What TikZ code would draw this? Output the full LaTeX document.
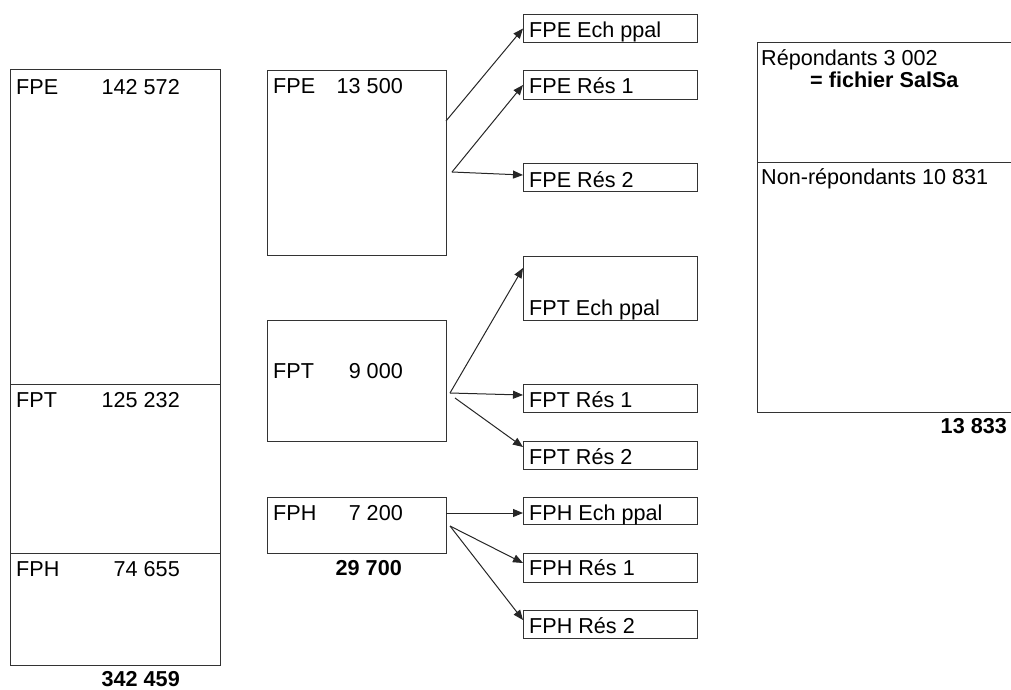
\documentclass[tikz,border=0pt]{standalone}
\usepackage{fontspec}
\setmainfont{Liberation Sans}
\usetikzlibrary{arrows.meta,calc}
\begin{document}
\begin{tikzpicture}[x=1pt,y=-1pt,
  box/.style={draw=black!80, line width=1pt, inner sep=0pt, anchor=north west, rectangle},
  txt/.style={anchor=base west, inner sep=0pt, font=\fontsize{21.6}{25}\selectfont},
  num/.style={anchor=base east, inner sep=0pt, font=\fontsize{21.6}{25}\selectfont},
  bnum/.style={anchor=base east, inner sep=0pt, font=\fontsize{21.6}{25}\selectfont\bfseries},
  arr/.style={draw=black!85, line width=1pt, -{Triangle[length=10pt,width=8pt]}}]
\useasboundingbox (0,0) rectangle (1011,689);
% left column
\node[box, minimum width=210pt, minimum height=315pt] (lfpe) at (10,69) {};
\node[box, minimum width=210pt, minimum height=169pt] (lfpt) at (10,384) {};
\node[box, minimum width=210pt, minimum height=112pt] (lfph) at (10,553) {};
\node[txt] (t1) at (16,94) {FPE};
\node[num] (n1) at (180,94) {142 572};
\node[txt] (t2) at (16,407) {FPT};
\node[num] (n2) at (180,407) {125 232};
\node[txt] (t3) at (16,576) {FPH};
\node[num] (n3) at (180,576) {74 655};
\node[bnum] (tot1) at (180,686) {342 459};
% middle column
\node[box, minimum width=179pt, minimum height=185pt] (mfpe) at (267,70) {};
\node[box, minimum width=179pt, minimum height=121pt] (mfpt) at (267,320) {};
\node[box, minimum width=179pt, minimum height=56pt] (mfph) at (267,497) {};
\node[txt] (m1) at (273,93) {FPE};
\node[num] (mn1) at (403,93) {13 500};
\node[txt] (m2) at (273,378) {FPT};
\node[num] (mn2) at (403,378) {9 000};
\node[txt] (m3) at (273,520) {FPH};
\node[num] (mn3) at (403,520) {7 200};
\node[bnum] (tot2) at (402,575) {29 700};
% small boxes
\node[box, minimum width=174pt, minimum height=28pt] (fpeech) at (523,14) {};
\node[box, minimum width=174pt, minimum height=29pt] (fpers1) at (523,70) {};
\node[box, minimum width=174pt, minimum height=28pt] (fpers2) at (523,163) {};
\node[box, minimum width=174pt, minimum height=64pt] (fptech) at (523,256) {};
\node[box, minimum width=174pt, minimum height=28pt] (fptrs1) at (523,384) {};
\node[box, minimum width=174pt, minimum height=28pt] (fptrs2) at (523,441) {};
\node[box, minimum width=174pt, minimum height=27pt] (fphech) at (523,497) {};
\node[box, minimum width=174pt, minimum height=29pt] (fphrs1) at (523,553) {};
\node[box, minimum width=174pt, minimum height=28pt] (fphrs2) at (523,610) {};
\node[txt] (s1) at (529,37) {FPE Ech ppal};
\node[txt] (s2) at (529,93) {FPE Rés 1};
\node[txt] (s3) at (529,187) {FPE Rés 2};
\node[txt] (s4) at (529,315) {FPT Ech ppal};
\node[txt] (s5) at (529,407) {FPT Rés 1};
\node[txt] (s6) at (529,464) {FPT Rés 2};
\node[txt] (s7) at (529,520) {FPH Ech ppal};
\node[txt] (s8) at (529,575) {FPH Rés 1};
\node[txt] (s9) at (529,633) {FPH Rés 2};
% right column
\node[box, minimum width=270pt, minimum height=120pt] (rresp) at (757,42) {};
\node[box, minimum width=270pt, minimum height=250pt] (rnon) at (757,162) {};
\node[txt] (r1) at (761,65) {Répondants 3 002};
\node[txt, font=\fontsize{21.6}{25}\selectfont\bfseries] (r2) at (810,87) {= fichier SalSa};
\node[txt] (r3) at (761,184) {Non-répondants 10 831};
\node[bnum] (tot3) at (1007,433) {13 833};
% arrows
\coordinate (a1) at (446,121);
\coordinate (a2) at (452,172);
\coordinate (b1) at (450,393);
\coordinate (b2) at (455,398);
\coordinate (c1) at (446,513);
\coordinate (c2) at (450,526);
\draw[arr] (a1) -- (fpeech.west);
\draw[arr] (a2) -- (fpers1.west);
\draw[arr] (a2) -- ($(fpers2.north west)+(0,12)$);
\draw[arr] (b1) -- ($(fptech.north west)+(0,12)$);
\draw[arr] (b1) -- ($(fptrs1.north west)+(0,11)$);
\draw[arr] (b2) -- ($(fptrs2.north west)+(0,6)$);
\draw[arr] (c1) -- (c1 -| fphech.west);
\draw[arr] (c2) -- ($(fphrs1.north west)+(0,10)$);
\draw[arr] (c2) -- ($(fphrs2.north west)+(0,10)$);
\end{tikzpicture}
\end{document}
